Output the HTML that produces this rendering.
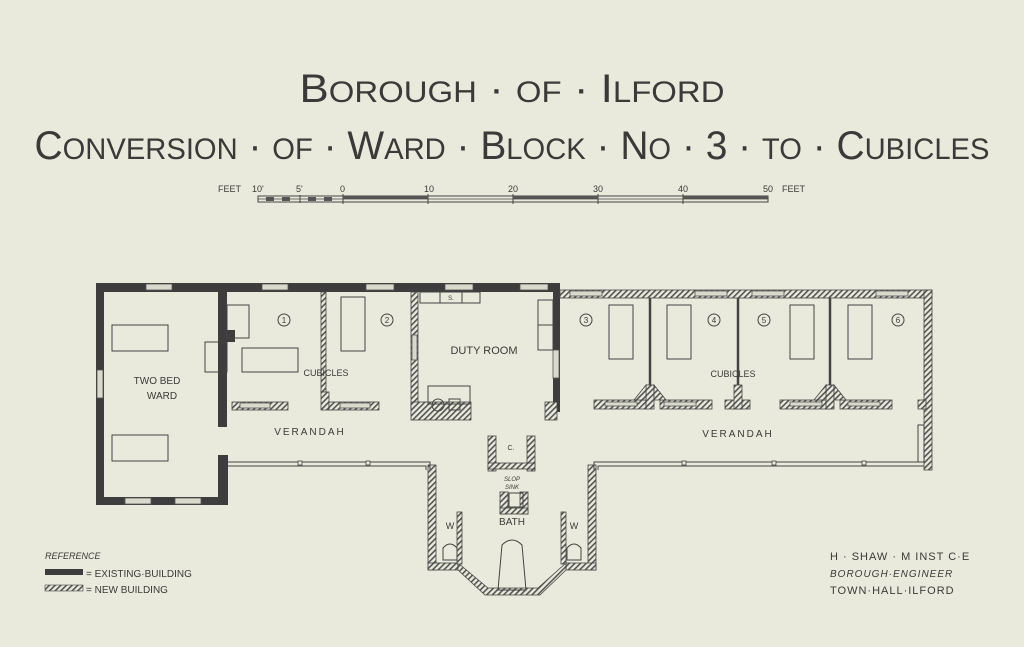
<!DOCTYPE html>
<html><head><meta charset="utf-8"><style>
html,body{margin:0;padding:0;background:#e9eadb;}
svg{display:block}
text{font-family:"Liberation Sans",sans-serif;fill:#3a3a3a}
</style></head><body>
<svg width="1024" height="647" viewBox="0 0 1024 647" xmlns="http://www.w3.org/2000/svg">
<defs>
<pattern id="h" width="4" height="4" patternUnits="userSpaceOnUse" patternTransform="rotate(45)">
<rect width="4" height="4" fill="#e9eadb"/><rect width="1.6" height="4" fill="#555"/></pattern>
</defs>
<rect width="1024" height="647" fill="#e9eadb"/>
<!-- titles -->
<text x="512" y="102" text-anchor="middle" font-size="40" textLength="425" lengthAdjust="spacingAndGlyphs" fill="#3a3a3a">B<tspan font-size="30">OROUGH</tspan> · <tspan font-size="30">OF</tspan> · I<tspan font-size="30">LFORD</tspan></text>
<text x="512" y="159" text-anchor="middle" font-size="40" textLength="955" lengthAdjust="spacingAndGlyphs">C<tspan font-size="30">ONVERSION</tspan> · <tspan font-size="30">OF</tspan> · W<tspan font-size="30">ARD</tspan> · B<tspan font-size="30">LOCK</tspan> · N<tspan font-size="30">O</tspan> · 3 · <tspan font-size="30">TO</tspan> · C<tspan font-size="30">UBICLES</tspan></text>
<!-- scale -->
<g font-size="9">
<text x="218" y="192">FEET</text><text x="252" y="192">10'</text><text x="296" y="192">5'</text><text x="340" y="192">0</text>
<text x="424" y="192">10</text><text x="508" y="192">20</text><text x="593" y="192">30</text><text x="678" y="192">40</text><text x="763" y="192">50</text><text x="782" y="192">FEET</text>
</g>
<rect x="258" y="196" width="510" height="6" fill="none" stroke="#444" stroke-width="1"/>
<line x1="258" y1="199" x2="768" y2="199" stroke="#444" stroke-width="0.8"/>
<g stroke="#444"><line x1="343" y1="194" x2="343" y2="204"/><line x1="428" y1="194" x2="428" y2="204"/><line x1="513" y1="194" x2="513" y2="204"/><line x1="598" y1="194" x2="598" y2="204"/><line x1="683" y1="194" x2="683" y2="204"/><line x1="300" y1="195" x2="300" y2="203"/></g>
<g fill="#555"><rect x="266" y="197" width="8" height="4"/><rect x="282" y="197" width="8" height="4"/><rect x="308" y="197" width="8" height="4"/><rect x="324" y="197" width="8" height="4"/><rect x="343" y="196" width="85" height="3"/><rect x="513" y="196" width="85" height="3"/><rect x="683" y="196" width="85" height="3"/></g>

<!-- existing walls (dark) -->
<g fill="#3d3d3d">
<rect x="96" y="283" width="8" height="222"/>
<rect x="96" y="283" width="464" height="9"/>
<rect x="96" y="497" width="132" height="8"/>
<rect x="218" y="455" width="10" height="50"/>
<rect x="218" y="292" width="9" height="135"/>
<rect x="227" y="330" width="8" height="12"/>
<rect x="553" y="292" width="7" height="120"/>
</g>
<g fill="#d9dacb" stroke="#555" stroke-width="0.8">
<rect x="146" y="284" width="26" height="6"/><rect x="262" y="284" width="26" height="6"/><rect x="366" y="284" width="28" height="6"/><rect x="445" y="284" width="28" height="6"/><rect x="520" y="284" width="28" height="6"/>
<rect x="97" y="370" width="6" height="28"/><rect x="125" y="498" width="26" height="6"/><rect x="175" y="498" width="26" height="6"/>
<rect x="553" y="350" width="6" height="28"/>
</g>
<!-- new walls hatched -->
<g fill="url(#h)" stroke="#444" stroke-width="0.8">
<rect x="560" y="290" width="372" height="8"/>
<rect x="924" y="290" width="8" height="180"/>
<rect x="411" y="292" width="7" height="118"/>
<rect x="321" y="292" width="5" height="100"/>
<rect x="321" y="392" width="8" height="18"/>
<rect x="329" y="402" width="50" height="8"/>
<rect x="232" y="402" width="56" height="8"/>
<rect x="411" y="402" width="60" height="18"/>
<rect x="545" y="402" width="12" height="18"/>
<rect x="594" y="400" width="52" height="9"/><rect x="660" y="400" width="52" height="9"/>
<rect x="725" y="400" width="25" height="9"/>
<rect x="780" y="400" width="50" height="9"/><rect x="840" y="400" width="52" height="9"/>
<rect x="918" y="400" width="8" height="9"/>
<rect x="428" y="465" width="8" height="105"/>
<rect x="588" y="465" width="8" height="105"/>
<rect x="428" y="563" width="30" height="7"/><rect x="566" y="563" width="30" height="7"/>
<polygon points="458,563 488,588 538,588 566,563 566,570 540,595 485,595 458,570"/>
<rect x="457" y="512" width="5" height="52"/><rect x="561" y="512" width="5" height="52"/>
<rect x="488" y="436" width="8" height="35"/><rect x="527" y="436" width="8" height="35"/><rect x="488" y="463" width="47" height="6"/>
<rect x="500" y="492" width="8" height="22"/><rect x="520" y="492" width="8" height="22"/><rect x="500" y="508" width="28" height="6"/>
</g>
<g stroke="#444" stroke-width="2.5">
<line x1="650" y1="298" x2="650" y2="395"/><line x1="738" y1="298" x2="738" y2="395"/><line x1="830" y1="298" x2="830" y2="395"/>
</g>
<g fill="url(#h)" stroke="#444" stroke-width="0.8">
<rect x="646" y="385" width="8" height="24"/><rect x="734" y="385" width="8" height="24"/><rect x="826" y="385" width="8" height="24"/>
<polygon points="634,400 646,385 646,400"/><polygon points="654,385 666,400 654,400"/>
<polygon points="814,400 826,385 826,400"/><polygon points="834,385 846,400 834,400"/>
</g>
<g fill="#d9dacb" stroke="#555" stroke-width="0.8">
<rect x="570" y="291" width="32" height="5"/><rect x="695" y="291" width="32" height="5"/><rect x="752" y="291" width="32" height="5"/><rect x="876" y="291" width="32" height="5"/>
<rect x="412" y="335" width="5" height="25"/>
<rect x="240" y="403" width="30" height="5"/><rect x="340" y="403" width="30" height="5"/>
<rect x="605" y="402" width="32" height="4"/><rect x="664" y="402" width="32" height="4"/><rect x="790" y="402" width="32" height="4"/><rect x="848" y="402" width="32" height="4"/>
</g>
<!-- verandah lines -->
<g stroke="#444" stroke-width="1" fill="none">
<polyline points="228,462 430,462 430,470"/>
<polyline points="228,466 426,466 426,470"/>
<polyline points="594,470 594,462 924,462"/>
<polyline points="598,470 598,466 924,466"/>
<rect x="918" y="425" width="6" height="37"/>
</g>
<g fill="#e9eadb" stroke="#444" stroke-width="0.8">
<rect x="298" y="461" width="4" height="4"/><rect x="366" y="461" width="4" height="4"/><rect x="682" y="461" width="4" height="4"/><rect x="772" y="461" width="4" height="4"/><rect x="862" y="461" width="4" height="4"/>
</g>
<!-- furniture -->
<g fill="none" stroke="#444" stroke-width="1">
<rect x="112" y="325" width="56" height="26"/><rect x="112" y="435" width="56" height="26"/>
<rect x="227" y="305" width="22" height="33"/><rect x="205" y="342" width="22" height="30"/>
<rect x="242" y="348" width="56" height="24"/><rect x="341" y="297" width="24" height="54"/>
<rect x="609" y="305" width="24" height="54"/><rect x="667" y="305" width="24" height="54"/><rect x="790" y="305" width="24" height="54"/><rect x="848" y="305" width="24" height="54"/>
<rect x="420" y="292" width="60" height="11"/><line x1="440" y1="292" x2="440" y2="303"/><line x1="462" y1="292" x2="462" y2="303"/>
<rect x="538" y="300" width="15" height="50"/><line x1="538" y1="325" x2="553" y2="325"/>
<rect x="428" y="386" width="42" height="18"/><circle cx="438" cy="405" r="6"/><rect x="449" y="399" width="11" height="11"/>
<rect x="509" y="493" width="14" height="14"/>
<path d="M498,590 L502,545 Q512,535 522,545 L526,590 Z"/>
<path d="M443,560 L443,548 Q450,540 457,548 L457,560 Z"/><path d="M567,560 L567,548 Q574,540 581,548 L581,560 Z"/>
<circle cx="284" cy="320" r="6"/><circle cx="387" cy="320" r="6"/><circle cx="586" cy="320" r="6"/><circle cx="714" cy="320" r="6"/><circle cx="764" cy="320" r="6"/><circle cx="898" cy="320" r="6"/>
</g>
<g font-size="8" text-anchor="middle"><text x="284" y="323">1</text><text x="387" y="323">2</text><text x="586" y="323">3</text><text x="714" y="323">4</text><text x="764" y="323">5</text><text x="898" y="323">6</text></g>
<g font-size="10" text-anchor="middle">
<text x="157" y="384">TWO BED</text><text x="162" y="399">WARD</text>
<text x="326" y="376" font-size="9">CUBICLES</text>
<text x="484" y="354" font-size="11">DUTY ROOM</text>
<text x="733" y="377" font-size="9">CUBICLES</text>
<text x="310" y="435" font-size="10" letter-spacing="2">VERANDAH</text>
<text x="738" y="437" font-size="10" letter-spacing="2">VERANDAH</text>
<text x="512" y="525" font-size="10">BATH</text>
<text x="450" y="529" font-size="9">W</text><text x="574" y="529" font-size="9">W</text>
<text x="511" y="450" font-size="7">C.</text><text x="451" y="300" font-size="6">S.</text>
<text x="512" y="481" font-size="6" font-style="italic">SLOP</text><text x="512" y="489" font-size="6" font-style="italic">SINK</text>
</g>
<text x="45" y="559" font-size="9" font-style="italic">REFERENCE</text>
<rect x="45" y="569" width="38" height="6" fill="#3d3d3d"/>
<rect x="45" y="585" width="38" height="6" fill="url(#h)" stroke="#444" stroke-width="0.6"/>
<text x="86" y="577" font-size="10">= EXISTING·BUILDING</text>
<text x="86" y="593" font-size="10">= NEW BUILDING</text>
<text x="830" y="560" font-size="11" letter-spacing="1">H · SHAW · M INST C·E</text>
<text x="830" y="577" font-size="10" font-style="italic" letter-spacing="1">BOROUGH·ENGINEER</text>
<text x="830" y="594" font-size="11" letter-spacing="1">TOWN·HALL·ILFORD</text>
</svg>
</body></html>
